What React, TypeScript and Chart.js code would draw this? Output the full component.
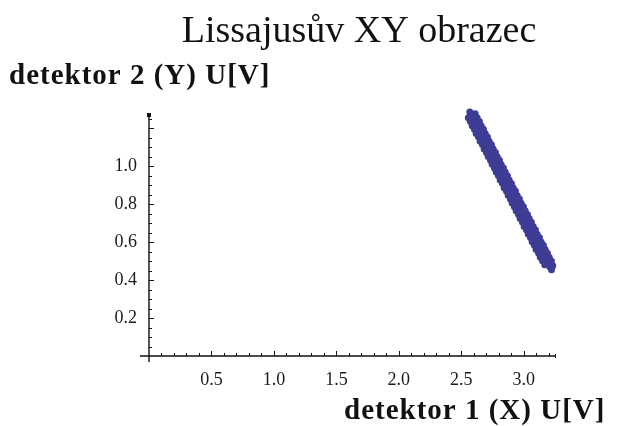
import React, { useEffect, useRef } from "react";
import { Chart, registerables } from "chart.js";

Chart.register(...registerables);

const chartTitle = "Lissajusův XY obrazec";
const xAxisTitle = "detektor 1 (X) U[V]";
const yAxisTitle = "detektor 2 (Y) U[V]";

const xTickValues = [0.5, 1.0, 1.5, 2.0, 2.5, 3.0];
const yTickValues = [0.2, 0.4, 0.6, 0.8, 1.0];

// detektor 1 (X) voltages
const detector1X = [
  // middle of the trace
  2.568, 2.584, 2.600, 2.616, 2.632, 2.648, 2.664, 2.680, 2.696, 2.712,
  2.728, 2.744, 2.760, 2.776, 2.792, 2.808, 2.824, 2.840, 2.856, 2.872,
  2.888, 2.904, 2.920, 2.936, 2.952, 2.968, 2.984, 3.000, 3.016, 3.032,
  3.048, 3.064, 3.080, 3.096, 3.112, 3.128, 3.144, 3.160, 3.176, 3.192,
  3.208, 3.222,
  // left side
  2.556, 2.573, 2.587, 2.605, 2.619, 2.637, 2.651, 2.669, 2.683, 2.701,
  2.715, 2.734, 2.747, 2.765, 2.779, 2.797, 2.811, 2.829, 2.843, 2.861,
  2.875, 2.893, 2.907, 2.925, 2.939, 2.957, 2.971, 2.989, 3.003, 3.021,
  3.035, 3.053, 3.067, 3.085, 3.099, 3.118, 3.132, 3.150, 3.168,
  // right side
  2.592, 2.611, 2.627, 2.645, 2.659, 2.677, 2.691, 2.709, 2.723, 2.741,
  2.755, 2.773, 2.787, 2.805, 2.819, 2.837, 2.851, 2.869, 2.883, 2.901,
  2.915, 2.933, 2.947, 2.965, 2.979, 2.997, 3.011, 3.029, 3.043, 3.061,
  3.075, 3.093, 3.107, 3.125, 3.139, 3.157, 3.171, 3.189, 3.203, 3.221,
  3.232,
];

// detektor 2 (Y) voltages
const detector2Y = [
  // middle of the trace
  1.286, 1.266, 1.245, 1.225, 1.204, 1.184, 1.164, 1.143, 1.123, 1.102,
  1.082, 1.062, 1.041, 1.021, 1.000, 0.980, 0.960, 0.939, 0.919, 0.898,
  0.878, 0.858, 0.837, 0.817, 0.796, 0.776, 0.756, 0.735, 0.715, 0.694,
  0.674, 0.654, 0.633, 0.613, 0.592, 0.572, 0.552, 0.531, 0.511, 0.490,
  0.470, 0.455,
  // left side
  1.256, 1.236, 1.214, 1.195, 1.173, 1.155, 1.132, 1.114, 1.091, 1.073,
  1.051, 1.032, 1.010, 0.991, 0.969, 0.951, 0.928, 0.910, 0.887, 0.869,
  0.847, 0.828, 0.806, 0.787, 0.765, 0.747, 0.724, 0.706, 0.683, 0.665,
  0.643, 0.624, 0.602, 0.583, 0.561, 0.543, 0.520, 0.502, 0.481,
  // right side
  1.294, 1.277, 1.256, 1.236, 1.213, 1.195, 1.173, 1.154, 1.132, 1.113,
  1.091, 1.073, 1.050, 1.032, 1.009, 0.991, 0.969, 0.950, 0.928, 0.909,
  0.887, 0.869, 0.846, 0.828, 0.805, 0.787, 0.765, 0.746, 0.724, 0.705,
  0.683, 0.665, 0.642, 0.624, 0.601, 0.583, 0.561, 0.542, 0.520, 0.500,
  0.476,
];

const xMin = 0;
const xMax = 3.25;
const yMin = 0;
const yMax = 1.27;

const W = 622;
const H = 426;

const axesPlugin = {
  id: "mmaAxes",
  beforeDatasetsDraw(chart: any) {
    const ctx = chart.ctx as CanvasRenderingContext2D;
    const xs = chart.scales.x;
    const ys = chart.scales.y;
    const x0 = xs.getPixelForValue(0);
    const y0 = ys.getPixelForValue(0);
    ctx.save();
    ctx.strokeStyle = "#111";
    ctx.fillStyle = "#111";
    ctx.lineWidth = 1.4;
    ctx.beginPath();
    ctx.moveTo(x0 - 9, y0);
    ctx.lineTo(xs.right + 1, y0);
    ctx.moveTo(x0, y0 + 6);
    ctx.lineTo(x0, ys.top - 1);
    ctx.stroke();
    ctx.fillRect(x0 - 2, ys.top - 2, 4, 4);
    ctx.lineWidth = 1;
    ctx.beginPath();
    // x ticks (pointing up)
    for (let i = 1; i <= 32; i++) {
      const v = i / 10;
      const px = Math.round(xs.getPixelForValue(v)) + 0.5;
      const len = i % 5 === 0 ? 5 : 3;
      ctx.moveTo(px, y0);
      ctx.lineTo(px, y0 - len);
    }
    ctx.moveTo(xs.right + 0.5, y0 - 2);
    ctx.lineTo(xs.right + 0.5, y0 + 2);
    // y ticks (pointing right)
    for (let i = 1; i <= 25; i++) {
      const v = i * 0.05;
      const py = Math.round(ys.getPixelForValue(v)) + 0.5;
      const len = i % 4 === 0 ? 5 : 3;
      ctx.moveTo(x0, py);
      ctx.lineTo(x0 + len, py);
    }
    ctx.stroke();
    ctx.restore();
  },
  afterDraw(chart: any) {
    const ctx = chart.ctx as CanvasRenderingContext2D;
    ctx.save();
    ctx.fillStyle = "#111";
    ctx.textBaseline = "alphabetic";
    ctx.textAlign = "center";
    ctx.font = '38px "Liberation Serif"';
    ctx.fillText(chartTitle, 359, 42);
    ctx.textAlign = "left";
    ctx.font = 'bold 29px "Liberation Serif"';
    (ctx as any).letterSpacing = "1px";
    ctx.fillText(yAxisTitle, 9, 84);
    ctx.fillText(xAxisTitle, 344, 419);
    ctx.restore();
  },
};

export default function App() {
  const canvasRef = useRef<HTMLCanvasElement | null>(null);

  useEffect(() => {
    if (!canvasRef.current) return;
    const points = detector1X.map((x, i) => ({ x, y: detector2Y[i] }));
    const tickFont = { family: '"Liberation Serif"', size: 18 };
    const chart = new Chart(canvasRef.current, {
      type: "scatter",
      data: {
        datasets: [
          {
            data: points,
            backgroundColor: "#3d3d96",
            borderWidth: 0,
            pointRadius: 3.5,
            pointHoverRadius: 3.5,
            clip: false,
          },
        ],
      },
      options: {
        responsive: false,
        animation: false,
        devicePixelRatio: 1,
        layout: { padding: { left: 0, right: W - 555, top: 115, bottom: 0 } },
        plugins: {
          legend: { display: false },
          title: { display: false },
          tooltip: { enabled: false },
        },
        scales: {
          x: {
            type: "linear",
            min: xMin,
            max: xMax,
            grid: { display: false, drawTicks: false, tickLength: 0 },
            border: { display: false },
            afterBuildTicks: (scale: any) => {
              scale.ticks = xTickValues.map((v) => ({ value: v }));
            },
            afterFit: (scale: any) => {
              scale.height = H - 356;
            },
            ticks: {
              font: tickFont,
              color: "#1a1a1a",
              padding: 13,
              maxRotation: 0,
              autoSkip: false,
              callback: (v: any) => Number(v).toFixed(1),
            },
          },
          y: {
            type: "linear",
            min: yMin,
            max: yMax,
            grid: { display: false, drawTicks: false, tickLength: 0 },
            border: { display: false },
            afterBuildTicks: (scale: any) => {
              scale.ticks = yTickValues.map((v) => ({ value: v }));
            },
            afterFit: (scale: any) => {
              scale.width = 149;
            },
            ticks: {
              font: tickFont,
              color: "#1a1a1a",
              padding: 12,
              autoSkip: false,
              callback: (v: any) => Number(v).toFixed(1),
            },
          },
        },
      },
      plugins: [axesPlugin],
    });
    return () => chart.destroy();
  }, []);

  return (
    <div style={{ position: "fixed", left: 0, top: 0, width: W, height: H, background: "#fff" }}>
      <canvas ref={canvasRef} width={W} height={H} />
    </div>
  );
}
